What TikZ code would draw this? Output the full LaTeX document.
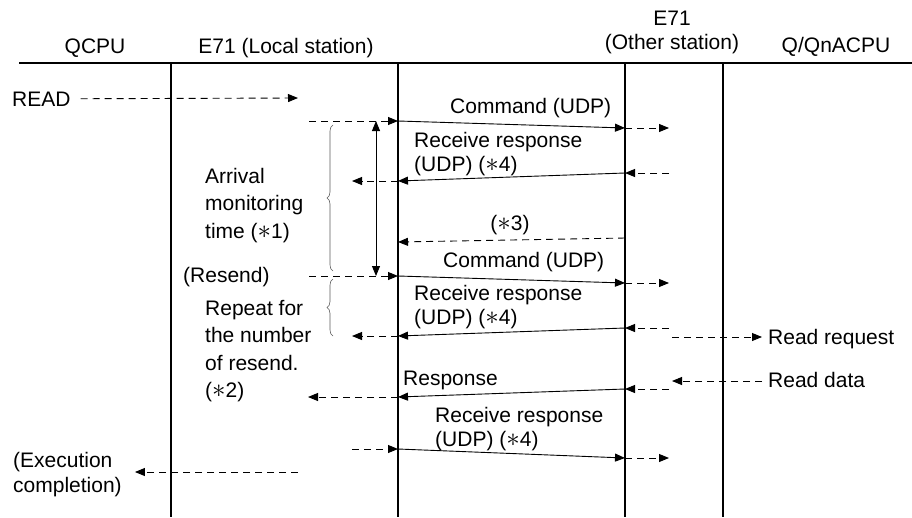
\documentclass[tikz,border=0pt]{standalone}
\usepackage{fontspec}
\setmainfont{Liberation Sans}
\usetikzlibrary{arrows.meta,decorations.pathreplacing,positioning}
\definecolor{bracegray}{RGB}{90,90,90}
\newcommand{\astr}{\scalebox{1.3}{$\ast$}}

\begin{document}
\begin{tikzpicture}[x=1pt,y=-1pt,
    txt/.style={inner sep=0pt,font=\fontsize{21}{24}\selectfont},
    blocktxt/.style={inner sep=0pt,align=left,anchor=north west,font=\fontsize{21}{27.5}\selectfont},
    replytxt/.style={inner sep=0pt,align=left,anchor=north west,font=\fontsize{21}{24}\selectfont},
    lifeline/.style={line width=2.2pt},
    msg/.style={line width=0.9pt,-{Triangle[length=10pt,width=8pt]}},
    dmsg/.style={msg,dash pattern=on 7pt off 5pt},
    timer/.style={line width=0.9pt,{Triangle[length=10pt,width=8pt]}-{Triangle[length=10pt,width=8pt]}},
    brc/.style={decorate,decoration={brace,amplitude=6pt},draw=bracegray,line width=0.6pt}]
  \useasboundingbox (0,0) rectangle (912,517);

  % headers and lifelines
  \node[txt,anchor=base] (hqcpu) at (95,53) {QCPU};
  \node[txt,anchor=base] (hlocal) at (286,53) {E71 (Local station)};
  \node[txt,anchor=north,align=center] (hother) at (672,11) {E71\\(Other station)};
  \node[txt,anchor=base] (hqna) at (836,52) {Q/QnACPU};
  \coordinate (top-w) at (19,63);
  \coordinate (top-e) at (912,63);
  \coordinate (qcpu-t) at (171,63);  \coordinate (qcpu-b) at (171,517);
  \coordinate (loc-t) at (398,63);   \coordinate (loc-b) at (398,517);
  \coordinate (oth-t) at (625,63);   \coordinate (oth-b) at (625,517);
  \coordinate (qna-t) at (723,63);   \coordinate (qna-b) at (723,517);
  \draw[lifeline] (top-w) -- (top-e);
  \draw[lifeline] (qcpu-t) -- (qcpu-b);
  \draw[lifeline] (loc-t) -- (loc-b);
  \draw[lifeline] (oth-t) -- (oth-b);
  \draw[lifeline] (qna-t) -- (qna-b);

  % READ instruction
  \node[txt,anchor=base west] (read) at (12,106) {READ};
  \coordinate (read-end) at (298,98);
  \draw[dmsg,shorten <=10pt] (read.east) -- (read-end);

  % first command and reply
  \node[txt,anchor=base west] (cmd1) at (450,113) {Command (UDP)};
  \coordinate (c1a) at (309,121); \coordinate (c1b) at (398,121);
  \coordinate (c1c) at (625,128); \coordinate (c1d) at (669,128);
  \draw[dmsg] (c1a) -- (c1b);
  \draw[msg] (c1b) -- (c1c);
  \draw[dmsg] (c1c) -- (c1d);
  \node[replytxt] (rr1) at (414,132) {Receive response\\(UDP) (\astr4)};
  \coordinate (r1a) at (669,173); \coordinate (r1b) at (625,173);
  \coordinate (r1c) at (398,181); \coordinate (r1d) at (352,181);
  \draw[dmsg] (r1a) -- (r1b);
  \draw[msg] (r1b) -- (r1c);
  \draw[dmsg] (r1c) -- (r1d);

  % arrival monitoring
  \coordinate (tm-t) at (376,121); \coordinate (tm-b) at (376,276);
  \draw[timer] (tm-t) -- (tm-b);
  \draw[brc] (333,271) -- (333,125);
  \node[blocktxt] (arrival) at (205,168) {Arrival\\monitoring\\time (\astr1)};

  % (*3)
  \node[txt,anchor=base] (star3) at (510,230) {(\astr3)};
  \coordinate (s3a) at (625,238); \coordinate (s3b) at (398,242);
  \draw[dmsg] (s3a) -- (s3b);

  % resend
  \node[txt,anchor=base west] (resend) at (183,282) {(Resend)};
  \node[txt,anchor=base west] (cmd2) at (443,267) {Command (UDP)};
  \coordinate (c2a) at (309,276); \coordinate (c2b) at (398,276);
  \coordinate (c2c) at (625,283); \coordinate (c2d) at (669,283);
  \draw[dmsg] (c2a) -- (c2b);
  \draw[msg] (c2b) -- (c2c);
  \draw[dmsg] (c2c) -- (c2d);
  \node[replytxt] (rr2) at (414,285) {Receive response\\(UDP) (\astr4)};
  \coordinate (r2a) at (669,328); \coordinate (r2b) at (625,328);
  \coordinate (r2c) at (398,336); \coordinate (r2d) at (352,336);
  \draw[dmsg] (r2a) -- (r2b);
  \draw[msg] (r2b) -- (r2c);
  \draw[dmsg] (r2c) -- (r2d);
  \draw[brc] (333,336) -- (333,279);
  \node[blocktxt] (repeat) at (205,300) {Repeat for\\the number\\of resend.\\(\astr2)};

  % read request / read data
  \node[txt,anchor=base west] (readreq) at (768,344) {Read request};
  \coordinate (rq) at (672,337);
  \draw[dmsg,shorten >=6pt] (rq) -- (rq -| readreq.west);
  \node[txt,anchor=base west] (readdata) at (768,387) {Read data};
  \coordinate (rd) at (672,381);
  \draw[dmsg,shorten <=6pt] (rd -| readdata.west) -- (rd);

  % response
  \node[txt,anchor=base west] (resp) at (403,385) {Response};
  \coordinate (p1) at (669,389); \coordinate (p2) at (625,389);
  \coordinate (p3) at (398,397); \coordinate (p4) at (308,397);
  \draw[dmsg] (p1) -- (p2);
  \draw[msg] (p2) -- (p3);
  \draw[dmsg] (p3) -- (p4);

  % final receive response
  \node[replytxt] (rr3) at (435,407) {Receive response\\(UDP) (\astr4)};
  \coordinate (r3a) at (352,449); \coordinate (r3b) at (398,449);
  \coordinate (r3c) at (625,458); \coordinate (r3d) at (669,458);
  \draw[dmsg] (r3a) -- (r3b);
  \draw[msg] (r3b) -- (r3c);
  \draw[dmsg] (r3c) -- (r3d);

  % completion
  \node[inner sep=0pt,align=left,anchor=north west,font=\fontsize{21}{25}\selectfont] (exec) at (13,452) {(Execution\\completion)};
  \coordinate (ex) at (298,472);
  \draw[dmsg,shorten >=13pt] (ex) -- (ex -| exec.east);
\end{tikzpicture}
\end{document}
